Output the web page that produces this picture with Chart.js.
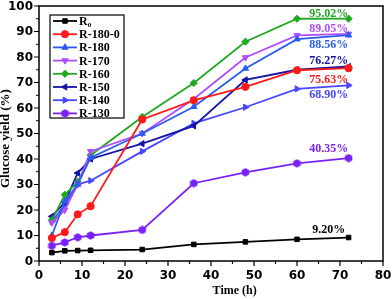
<!DOCTYPE html>
<html>
<head>
<meta charset="utf-8">
<script src="https://cdn.jsdelivr.net/npm/chart.js@4.4.0/dist/chart.umd.min.js"></script>
<style>
  html, body { margin: 0; padding: 0; background: #fff; }
  #wrap { width: 392px; height: 299px; }
</style>
</head>
<body>
<div id="wrap"><canvas id="yieldChart" width="392" height="299"></canvas></div>
<script>
// time points (h) and glucose yield (%) per sample
const timeH = [3, 6, 9, 12, 24, 36, 48, 60, 72];
const r0 = [3.3, 4.0, 4.1, 4.2, 4.5, 6.5, 7.5, 8.5, 9.20];
const r180_0 = [9.0, 11.3, 18.3, 21.5, 55.5, 63.0, 68.3, 74.8, 75.63];
const r180 = [10.0, 23.5, 30.0, 40.5, 50.0, 60.5, 75.5, 87.0, 88.56];
const r170 = [15.0, 20.0, 30.0, 43.0, 50.0, 63.5, 79.8, 88.5, 89.05];
const r160 = [16.0, 26.0, 31.0, 41.5, 56.5, 69.8, 86.0, 95.0, 95.02];
const r150 = [17.5, 23.0, 34.5, 40.0, 46.0, 53.0, 71.0, 75.0, 76.27];
const r140 = [15.5, 22.0, 30.0, 31.5, 43.0, 54.0, 60.3, 67.5, 68.90];
const r130 = [6.0, 7.3, 9.3, 10.0, 12.2, 30.5, 34.8, 38.3, 40.35];

const seriesNames = ["R₀", "R-180-0", "R-180", "R-170", "R-160", "R-150", "R-140", "R-130"];
const seriesValues = [r0, r180_0, r180, r170, r160, r150, r140, r130];

const xTicks = [0, 10, 20, 30, 40, 50, 60, 70, 80];
const yTicks = [0, 10, 20, 30, 40, 50, 60, 70, 80, 90, 100];

// styles
const colors = ["#000000", "#ff1a1a", "#2a5cf0", "#b04cff", "#22a822", "#1414a8", "#4646ff", "#7a22f5"];
const markers = ["rect", "circle", "triangle", "triangle", "rectRot", "triangle", "triangle", "hex"];
const rotations = [0, 0, 0, 180, 0, 270, 90, 0];

function hexMarker(color) {
    const c = document.createElement("canvas");
    c.width = 9; c.height = 9;
    const g = c.getContext("2d");
    g.fillStyle = color;
    g.beginPath();
    for (let i = 0; i < 6; i++) {
        const a = Math.PI / 6 + i * Math.PI / 3;
        const px = 4.5 + 4.3 * Math.cos(a), py = 4.5 + 4.3 * Math.sin(a);
        if (i === 0) g.moveTo(px, py); else g.lineTo(px, py);
    }
    g.closePath();
    g.fill();
    return c;
}

const datasets = seriesNames.map((name, i) => ({
    label: name,
    data: timeH.map((t, j) => ({ x: t, y: seriesValues[i][j] })),
    borderColor: colors[i],
    backgroundColor: colors[i],
    borderWidth: 1.8,
    pointStyle: markers[i] === "hex" ? hexMarker(colors[i]) : markers[i],
    pointRotation: rotations[i],
    pointRadius: markers[i] === "rect" ? 3.2 : 3.6,
    pointBorderWidth: 1,
    tension: 0,
    fill: false
}));

// end-of-curve labels: which series, and vertical offset (in %) from its last point
const endLabels = [
    { idx: 4, dy: 1.9 },
    { idx: 3, dy: 2.0 },
    { idx: 2, dy: -3.9 },
    { idx: 5, dy: 2.1 },
    { idx: 1, dy: -4.6 },
    { idx: 6, dy: -3.9 },
    { idx: 7, dy: 3.8 },
    { idx: 0, dy: 3.0 }
];
const labelX = 67.4;

const tickFont = "bold 12px 'DejaVu Sans', sans-serif";
const serifFont = size => "bold " + size + "px 'Liberation Serif', serif";

const framePlugin = {
    id: "frame",
    afterDraw(chart) {
        const { ctx, chartArea: a, scales } = chart;
        ctx.save();
        ctx.strokeStyle = "#000";
        ctx.lineWidth = 1.5;
        ctx.strokeRect(a.left, a.top, a.right - a.left, a.bottom - a.top);

        // major + minor ticks, outward
        ctx.lineWidth = 1.2;
        ctx.beginPath();
        for (let v = 0; v <= 80; v += 5) {
            const px = scales.x.getPixelForValue(v);
            const len = v % 10 === 0 ? 5 : 3;
            ctx.moveTo(px, a.bottom);
            ctx.lineTo(px, a.bottom + len);
        }
        for (let v = 0; v <= 100; v += 5) {
            const py = scales.y.getPixelForValue(v);
            const len = v % 10 === 0 ? 5 : 3;
            ctx.moveTo(a.left, py);
            ctx.lineTo(a.left - len, py);
        }
        ctx.stroke();

        // tick labels
        ctx.fillStyle = "#000";
        ctx.font = tickFont;
        ctx.textAlign = "center";
        ctx.textBaseline = "middle";
        xTicks.forEach(v => ctx.fillText(String(v), scales.x.getPixelForValue(v), a.bottom + 15));
        ctx.textAlign = "right";
        yTicks.forEach(v => ctx.fillText(String(v), a.left - 6, scales.y.getPixelForValue(v) + 0.5));

        // axis titles
        ctx.textAlign = "center";
        ctx.font = serifFont(12);
        ctx.fillText("Time (h)", scales.x.getPixelForValue(45.5), a.bottom + 30);
        ctx.save();
        ctx.translate(6, scales.y.getPixelForValue(48));
        ctx.rotate(-Math.PI / 2);
        ctx.font = serifFont(13);
        ctx.fillText("Glucose yield (%)", 0, 0);
        ctx.restore();

        // end labels
        ctx.font = serifFont(12);
        endLabels.forEach(l => {
            const vals = seriesValues[l.idx];
            const last = vals[vals.length - 1];
            ctx.fillStyle = colors[l.idx];
            ctx.fillText(last.toFixed(2) + "%", scales.x.getPixelForValue(labelX),
                scales.y.getPixelForValue(last + l.dy));
        });

        // legend box
        const bx = a.left + 11, by = a.top + 9, rowH = 13.2;
        const bw = 74, bh = 103;
        ctx.fillStyle = "#fff";
        ctx.fillRect(bx, by, bw, bh);
        ctx.strokeStyle = "#000";
        ctx.lineWidth = 1.2;
        ctx.strokeRect(bx, by, bw, bh);
        ctx.textAlign = "left";
        ctx.font = serifFont(12);
        chart.data.datasets.forEach((ds, i) => {
            const cy = by + 6 + i * rowH;
            ctx.strokeStyle = colors[i];
            ctx.lineWidth = 1.8;
            ctx.beginPath();
            ctx.moveTo(bx + 3, cy);
            ctx.lineTo(bx + 27, cy);
            ctx.stroke();
            ctx.fillStyle = colors[i];
            ctx.lineWidth = 1;
            Chart.helpers.drawPoint(ctx, {
                pointStyle: ds.pointStyle,
                radius: ds.pointRadius,
                rotation: ds.pointRotation,
                borderWidth: 1
            }, bx + 15, cy);
            ctx.fillStyle = "#000";
            ctx.fillText(ds.label, bx + 29, cy + 1);
        });
        ctx.restore();
    }
};

new Chart(document.getElementById("yieldChart").getContext("2d"), {
    type: "line",
    data: { datasets: datasets },
    options: {
        responsive: false,
        animation: false,
        layout: { padding: { top: 6, right: 9, left: 0, bottom: 0 } },
        plugins: {
            legend: { display: false },
            tooltip: { enabled: false }
        },
        scales: {
            x: {
                type: "linear",
                min: 0,
                max: 80,
                afterFit: s => { s.height = 38; },
                grid: { display: false },
                border: { display: false },
                ticks: { display: false }
            },
            y: {
                min: 0,
                max: 100,
                afterFit: s => { s.width = 39; },
                grid: { display: false },
                border: { display: false },
                ticks: { display: false }
            }
        }
    },
    plugins: [framePlugin]
});
</script>
</body>
</html>
